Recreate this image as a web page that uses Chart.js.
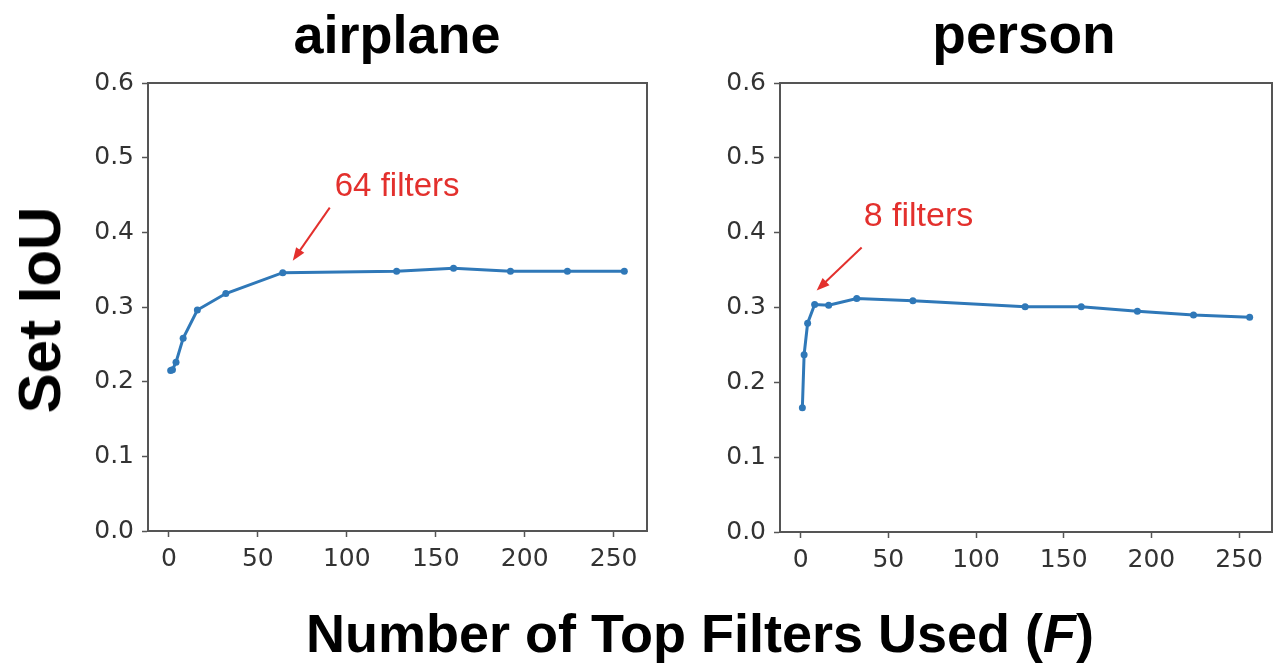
<!DOCTYPE html>
<html>
<head>
<meta charset="utf-8">
<script src="https://cdn.jsdelivr.net/npm/chart.js@4.4.1/dist/chart.umd.min.js"></script>
<style>
  html, body { margin: 0; padding: 0; background: #fff; }
  #wrap { position: relative; width: 1276px; height: 665px; overflow: hidden; font-family: "Liberation Sans", Arial, sans-serif; }
  #wrap canvas { position: absolute; top: 0; }
  .lbl { position: absolute; font-weight: bold; color: #000; white-space: nowrap; line-height: 1; transform: translate(-50%, -50%); }
</style>
</head>
<body>
<div id="wrap">
  <canvas id="airplaneChart" width="660" height="665" style="left:0px"></canvas>
  <canvas id="personChart" width="616" height="665" style="left:660px"></canvas>
  <div class="lbl" style="left:397px; top:34px; font-size:54px;">airplane</div>
  <div class="lbl" style="left:1024px; top:34px; font-size:55px;">person</div>
  <div class="lbl" style="left:40px; top:310px; font-size:60px; transform: translate(-50%, -50%) rotate(-90deg);">Set IoU</div>
  <div class="lbl" style="left:700px; top:633px; font-size:54px;">Number of Top Filters Used (<i>F</i>)</div>
</div>
<script>
// --- data ---
const filterCounts = [1, 2, 4, 8, 16, 32, 64, 128, 160, 192, 224, 256];
const airplaneIoU = [0.215, 0.216, 0.226, 0.258, 0.296, 0.318, 0.346, 0.348, 0.352, 0.348, 0.348, 0.348];
const personIoU = [0.166, 0.237, 0.279, 0.304, 0.303, 0.312, 0.309, 0.301, 0.301, 0.295, 0.290, 0.287];
const xTickValues = [0, 50, 100, 150, 200, 250];
const yTickValues = [0, 0.1, 0.2, 0.3, 0.4, 0.5, 0.6];

const LINE_BLUE = '#2f78b8';
const AXIS_GREY = '#555';
const TICK_TEXT = '#333';
const NOTE_RED = '#e3302d';

// frame on top/right + red arrow annotation pointing at one point
function notePlugin(note) {
    return {
        id: 'arrowNote',
        afterDraw(chart) {
            const { ctx, chartArea, scales } = chart;
            ctx.save();
            ctx.strokeStyle = AXIS_GREY;
            ctx.lineWidth = 2;
            ctx.beginPath();
            ctx.moveTo(chartArea.left, chartArea.top);
            ctx.lineTo(chartArea.right, chartArea.top);
            ctx.lineTo(chartArea.right, chartArea.bottom);
            ctx.stroke();

            const px = scales.x.getPixelForValue(filterCounts[note.index]);
            const py = scales.y.getPixelForValue(note.values[note.index]);
            const tipX = px + note.tip[0], tipY = py + note.tip[1];
            const tailX = px + note.tail[0], tailY = py + note.tail[1];
            const ang = Math.atan2(tipY - tailY, tipX - tailX);
            const head = 13, half = 5;

            ctx.strokeStyle = NOTE_RED;
            ctx.fillStyle = NOTE_RED;
            ctx.lineWidth = 2;
            ctx.beginPath();
            ctx.moveTo(tailX, tailY);
            ctx.lineTo(tipX - Math.cos(ang) * head * 0.8, tipY - Math.sin(ang) * head * 0.8);
            ctx.stroke();
            ctx.beginPath();
            ctx.moveTo(tipX, tipY);
            ctx.lineTo(tipX - Math.cos(ang) * head - Math.sin(ang) * half, tipY - Math.sin(ang) * head + Math.cos(ang) * half);
            ctx.lineTo(tipX - Math.cos(ang) * head + Math.sin(ang) * half, tipY - Math.sin(ang) * head - Math.cos(ang) * half);
            ctx.closePath();
            ctx.fill();

            ctx.font = note.fontSize + 'px "Liberation Sans", Arial, sans-serif';
            ctx.textAlign = 'left';
            ctx.textBaseline = 'alphabetic';
            ctx.fillText(note.text, px + note.label[0], py + note.label[1]);
            ctx.restore();
        }
    };
}

function tickFont() {
    return { family: '"DejaVu Sans", sans-serif', size: 25 };
}

function buildChart(id, values, padding, note) {
    const el = document.getElementById(id);
    return new Chart(el.getContext('2d'), {
        type: 'line',
        data: {
            datasets: [{
                data: filterCounts.map((f, i) => ({ x: f, y: values[i] })),
                borderColor: LINE_BLUE,
                backgroundColor: LINE_BLUE,
                borderWidth: 3,
                tension: 0,
                fill: false,
                pointRadius: 3.5,
                pointBorderWidth: 0,
                pointBackgroundColor: LINE_BLUE
            }]
        },
        options: {
            responsive: false,
            animation: false,
            layout: { padding },
            plugins: { legend: { display: false }, tooltip: { enabled: false } },
            scales: {
                x: {
                    type: 'linear',
                    min: -11.75,
                    max: 268.75,
                    afterBuildTicks: (s) => { s.ticks = xTickValues.map(v => ({ value: v })); },
                    afterFit: (s) => { s.height = 50; },
                    ticks: { font: tickFont(), color: TICK_TEXT, padding: 7, maxRotation: 0, autoSkip: false, callback: (v) => String(v) },
                    grid: { drawOnChartArea: false, drawTicks: true, tickLength: 6, tickWidth: 1.5, tickColor: AXIS_GREY },
                    border: { display: true, color: AXIS_GREY, width: 2 }
                },
                y: {
                    type: 'linear',
                    min: 0,
                    max: 0.6,
                    afterBuildTicks: (s) => { s.ticks = yTickValues.map(v => ({ value: v })); },
                    afterFit: (s) => { s.width = 60; },
                    ticks: { font: tickFont(), color: TICK_TEXT, padding: 8, autoSkip: false, callback: (v) => v.toFixed(1) },
                    grid: { drawOnChartArea: false, drawTicks: true, tickLength: 6, tickWidth: 1.5, tickColor: AXIS_GREY },
                    border: { display: true, color: AXIS_GREY, width: 2 }
                }
            }
        },
        plugins: [notePlugin(note)]
    });
}

buildChart('airplaneChart', airplaneIoU,
    { left: 88, right: 13, top: 83, bottom: 84 },
    { index: 6, values: airplaneIoU, text: '64 filters', fontSize: 33, tip: [10, -12], tail: [47, -65], label: [52, -77] });

buildChart('personChart', personIoU,
    { left: 60, right: 3, top: 83, bottom: 83 },
    { index: 3, values: personIoU, text: '8 filters', fontSize: 34, tip: [2, -14], tail: [47, -57], label: [49, -79] });
</script>
</body>
</html>
